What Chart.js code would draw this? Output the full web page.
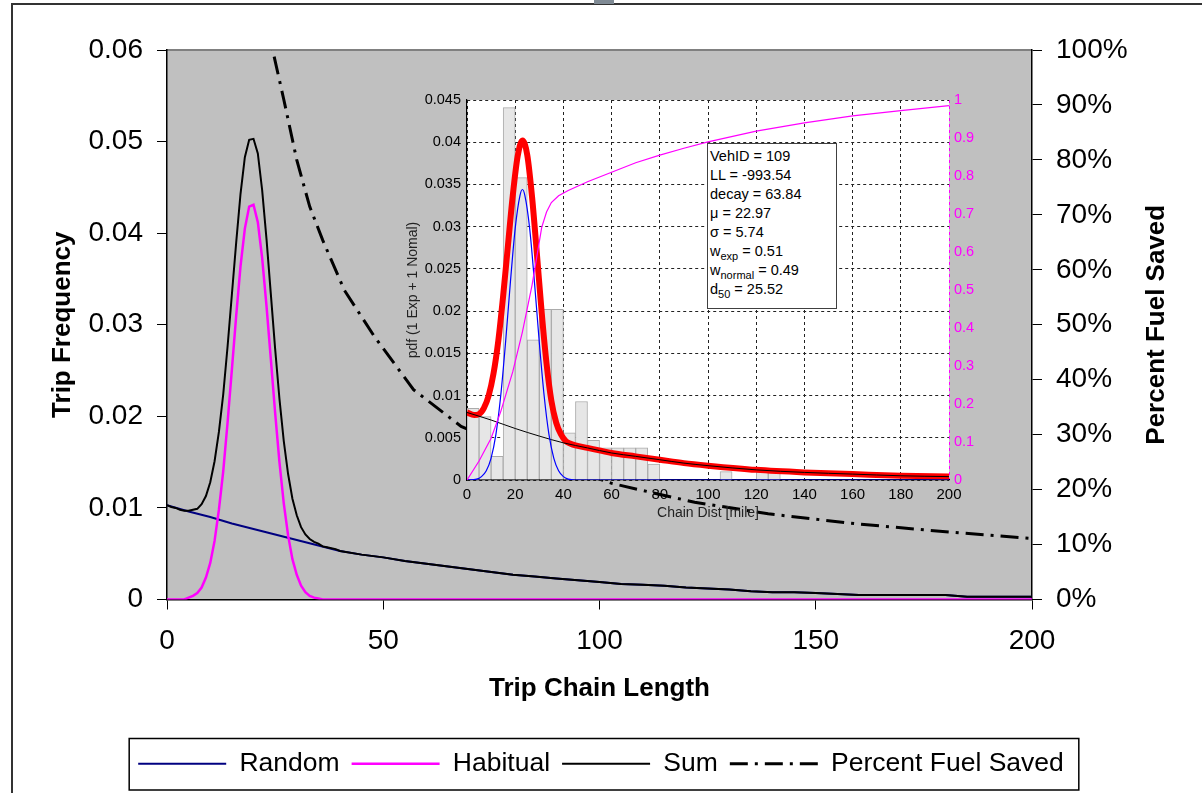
<!DOCTYPE html>
<html>
<head>
<meta charset="utf-8">
<script src="https://cdn.jsdelivr.net/npm/chart.js@4.4.1/dist/chart.umd.min.js"></script>
<style>
html, body { margin: 0; padding: 0; background: #fff; }
#wrap { position: relative; width: 1202px; height: 793px; overflow: hidden; }
#frame { position: absolute; left: 11px; top: 3px; width: 1300px; height: 900px; border-left: 2px solid #333; border-top: 2px solid #333; }
#tab { position: absolute; left: 594px; top: 0; width: 20px; height: 4px; background: #7f8a94; }
#mainChart { position: absolute; left: 0; top: 0; }
#insetChart { position: absolute; left: 395px; top: 85px; }
#stats { position: absolute; left: 707px; top: 143px; width: 130px; height: 166px; box-sizing: border-box;
  border: 1px solid #404040; background: #fff; padding: 3px 0 0 2px;
  font: 14.5px "Liberation Sans", Arial, sans-serif; color: #000; }
#stats div { height: 19px; line-height: 19px; white-space: nowrap; }
#stats sub { font-size: 11px; vertical-align: -4px; line-height: 0; }
</style>
</head>
<body>
<div id="wrap">
  <div id="frame"></div>
  <div id="tab"></div>
  <canvas id="mainChart" width="1202" height="793"></canvas>
  <canvas id="insetChart" width="600" height="440"></canvas>
  <div id="stats">
    <div>VehID = 109</div>
    <div>LL = -993.54</div>
    <div>decay = 63.84</div>
    <div>&mu; = 22.97</div>
    <div>&sigma; = 5.74</div>
    <div>w<sub>exp</sub> = 0.51</div>
    <div>w<sub>normal</sub> = 0.49</div>
    <div>d<sub>50</sub> = 25.52</div>
  </div>
</div>
<script>
// ---- main chart data (trip chain length in miles) ----
const randomX = [0, 5, 10, 15, 20, 25, 30, 35, 40, 45, 50, 55, 60, 65, 70, 75, 80, 85, 90, 95, 100,
  105, 110, 115, 120, 125, 130, 135, 140, 145, 150, 155, 160, 165, 170, 175, 180, 185, 190, 195, 200];
const randomY = [0.0103, 0.0096, 0.0090, 0.0083, 0.0077, 0.0071, 0.0065, 0.0059, 0.0053, 0.0049, 0.0046,
  0.0042, 0.0039, 0.0036, 0.0033, 0.0030, 0.0027, 0.0025, 0.0023, 0.0021, 0.0019,
  0.0017, 0.0016, 0.0015, 0.0013, 0.0012, 0.0011, 0.0009, 0.0008, 0.0008, 0.0007,
  0.0006, 0.0005, 0.0005, 0.0005, 0.0005, 0.0005, 0.0003, 0.0003, 0.0003, 0.0003];

const habitualX = [0, 1, 2, 3, 4, 5, 6, 7, 8, 9, 10, 11, 12, 13, 14, 15, 16, 17, 18, 19, 20,
  21, 22, 23, 24, 25, 26, 27, 28, 29, 30, 31, 32, 33, 34, 35, 36, 40, 200];
const habitualY = [0, 0, 0, 0, 0, 0.0002, 0.0004, 0.0007, 0.0013, 0.0024, 0.0040, 0.0064, 0.0098, 0.0140,
  0.0193, 0.0251, 0.0310, 0.0364, 0.0405, 0.0429, 0.0431, 0.0412, 0.0373, 0.0321, 0.0263, 0.0204,
  0.0150, 0.0105, 0.0070, 0.0044, 0.0027, 0.0015, 0.0008, 0.0004, 0.0002, 0.0001, 0, 0, 0];

const sumX = [0, 1, 2, 3, 4, 5, 6, 7, 8, 9, 10, 11, 12, 13, 14, 15, 16, 17, 18, 19, 20,
  21, 22, 23, 24, 25, 26, 27, 28, 29, 30, 31, 32, 33, 34, 35, 36, 37, 38, 39, 40,
  45, 50, 55, 60, 65, 70, 75, 80, 85, 90, 95, 100, 105, 110, 115, 120, 125, 130, 135, 140,
  145, 150, 155, 160, 165, 170, 175, 180, 185, 190, 195, 200];
const sumY = [0.0103, 0.0101, 0.0100, 0.0098, 0.0097, 0.0097, 0.0098, 0.0099, 0.0104, 0.0113, 0.0128,
  0.0151, 0.0183, 0.0224, 0.0276, 0.0333, 0.0390, 0.0443, 0.0483, 0.0502, 0.0503,
  0.0487, 0.0447, 0.0394, 0.0334, 0.0274, 0.0219, 0.0173, 0.0137, 0.0110, 0.0092,
  0.0079, 0.0071, 0.0066, 0.0063, 0.0061, 0.0058, 0.0057, 0.0056, 0.0055, 0.0053,
  0.0049, 0.0046, 0.0042, 0.0039, 0.0036, 0.0033, 0.0030, 0.0027, 0.0025, 0.0023, 0.0021, 0.0019,
  0.0017, 0.0016, 0.0015, 0.0013, 0.0012, 0.0011, 0.0009, 0.0008, 0.0008, 0.0007,
  0.0006, 0.0005, 0.0005, 0.0005, 0.0005, 0.0005, 0.0003, 0.0003, 0.0003, 0.0003];

const fuelX = [23, 27, 30, 33, 36, 41, 48, 57, 68, 80, 90, 103, 113, 122, 139, 159, 176, 200];
const fuelY = [105, 91, 80, 71.5, 65.4, 56.3, 47.8, 38.2, 31.5, 27.5, 24.5, 21.1, 19.3, 17.7, 15.6, 13.8, 12.6, 11.1];

// ---- inset data (chain distance in miles) ----
const binCenters = [2.5, 7.5, 12.5, 17.5, 22.5, 27.5, 32.5, 37.5, 42.5, 47.5, 52.5, 57.5, 62.5,
  67.5, 72.5, 77.5, 82.5, 87.5, 92.5, 97.5, 102.5, 107.5, 112.5, 117.5, 122.5, 127.5];
const binHeights = [0.0085, 0.0075, 0.0028, 0.0441, 0.0358, 0.0166, 0.0202, 0.0202, 0.0056, 0.0093,
  0.0047, 0.0038, 0.0038, 0.0038, 0.0038, 0.0019, null, null, null, null, null, 0.0010,
  null, null, 0.0010, 0.0010];

const pdfX = [0, 3, 5, 7, 9, 11, 13, 15, 17, 19, 21, 23, 25, 27, 29, 31, 33, 35, 37, 39, 41, 43, 45,
  50, 60, 70, 80, 90, 100, 120, 140, 160, 180, 200];
const pdfY = [0.0080, 0.0077, 0.0078, 0.0085, 0.0100, 0.0126, 0.0165, 0.0218, 0.0278, 0.0337, 0.0383,
  0.0402, 0.0385, 0.0335, 0.0268, 0.0198, 0.0138, 0.0094, 0.0068, 0.0054, 0.0046, 0.0043, 0.0041,
  0.0038, 0.0032, 0.0028, 0.0024, 0.0020, 0.0017, 0.0012, 0.0009, 0.0007, 0.0005, 0.0004];

const expX = [0, 10, 20, 30, 40, 50, 60, 70, 80, 90, 100, 120, 140, 160, 180, 200];
const expY = [0.0080, 0.0071, 0.0061, 0.0052, 0.0044, 0.0038, 0.0032, 0.0028, 0.0024, 0.0020,
  0.0017, 0.0012, 0.0009, 0.0007, 0.0005, 0.0004];

const normX = [0, 4, 6, 8, 10, 12, 14, 16, 18, 20, 22, 23, 24, 26, 28, 30, 32, 34, 36, 38, 40, 42, 45, 200];
const normY = [0, 0.0001, 0.0004, 0.0011, 0.0026, 0.0054, 0.0100, 0.0163, 0.0234, 0.0298, 0.0337,
  0.0344, 0.0337, 0.0298, 0.0234, 0.0163, 0.0100, 0.0054, 0.0026, 0.0011, 0.0004, 0.0001, 0, 0];

const cdfX = [0, 5, 10, 14, 19, 23, 27, 31, 33, 35, 38, 42, 50, 60, 70, 80, 90, 100, 120, 140, 160, 180, 200];
const cdfY = [0, 0.05, 0.11, 0.18, 0.285, 0.39, 0.513, 0.665, 0.705, 0.730, 0.748, 0.762, 0.785,
  0.81, 0.835, 0.855, 0.873, 0.89, 0.918, 0.94, 0.958, 0.972, 0.985];

const FONT = '"Liberation Sans", Arial, sans-serif';
Chart.defaults.font.family = FONT;
Chart.defaults.color = '#000';

function pts(xs, ys) {
    return xs.map((x, i) => ({ x: x, y: ys[i] }));
}

// gray plot area, top border, right title, legend frame
const mainDecor = {
    id: 'mainDecor',
    beforeDraw(chart) {
        const { ctx, chartArea: a } = chart;
        ctx.save();
        ctx.fillStyle = '#C0C0C0';
        ctx.fillRect(a.left, a.top, a.right - a.left, a.bottom - a.top);
        ctx.strokeStyle = '#808080';
        ctx.lineWidth = 2;
        ctx.beginPath();
        ctx.moveTo(a.left, a.top);
        ctx.lineTo(a.right, a.top);
        ctx.stroke();
        ctx.restore();
    },
    afterDraw(chart) {
        const { ctx, chartArea: a } = chart;
        ctx.save();
        ctx.translate(1157, (a.top + a.bottom) / 2);
        ctx.rotate(-Math.PI / 2);
        ctx.font = 'bold 26px ' + FONT;
        ctx.fillStyle = '#000';
        ctx.textAlign = 'center';
        ctx.textBaseline = 'middle';
        ctx.fillText('Percent Fuel Saved', 0, 0);
        ctx.restore();

        const boxes = chart.legend.legendHitBoxes;
        if (boxes && boxes.length) {
            const l = Math.min(...boxes.map(b => b.left)) - 9;
            const r = Math.max(...boxes.map(b => b.left + b.width)) + 15;
            const t = boxes[0].top - 12;
            const b = boxes[0].top + boxes[0].height + 13;
            ctx.save();
            ctx.strokeStyle = '#000';
            ctx.lineWidth = 1.5;
            ctx.strokeRect(l, t, r - l, b - t);
            ctx.restore();
        }
    }
};

new Chart(document.getElementById('mainChart'), {
    type: 'line',
    data: {
        datasets: [{
            label: 'Random',
            data: pts(randomX, randomY),
            borderColor: '#000080',
            borderWidth: 2,
            order: 3
        }, {
            label: 'Habitual',
            data: pts(habitualX, habitualY),
            borderColor: '#FF00FF',
            borderWidth: 2.5,
            order: 1
        }, {
            label: 'Sum',
            data: pts(sumX, sumY),
            borderColor: '#000000',
            borderWidth: 2,
            order: 2
        }, {
            label: 'Percent Fuel Saved',
            data: pts(fuelX, fuelY),
            borderColor: '#000000',
            borderWidth: 3,
            borderDash: [18, 7, 3, 7],
            yAxisID: 'y1',
            order: 0
        }]
    },
    options: {
        responsive: false,
        animation: false,
        events: [],
        elements: { point: { radius: 0 }, line: { tension: 0 } },
        layout: { padding: { top: 50, left: 0, right: 0, bottom: 6 } },
        plugins: {
            tooltip: { enabled: false },
            legend: {
                position: 'bottom',
                labels: {
                    usePointStyle: true,
                    pointStyleWidth: 88,
                    padding: 12,
                    font: { size: 26.5 },
                    color: '#000',
                    generateLabels: (chart) => chart.data.datasets.map((ds, i) => ({
                        text: ds.label,
                        strokeStyle: ds.borderColor,
                        fillStyle: ds.borderColor,
                        lineWidth: ds.borderWidth,
                        lineDash: ds.borderDash || [],
                        pointStyle: 'line',
                        hidden: false,
                        datasetIndex: i
                    }))
                }
            }
        },
        scales: {
            x: {
                type: 'linear',
                min: 0,
                max: 200,
                afterFit: (s) => { s.height = 139; },
                ticks: { stepSize: 50, padding: 15, font: { size: 28 }, maxRotation: 0 },
                grid: { drawOnChartArea: false, tickLength: 10, color: '#000' },
                border: { color: '#000', width: 1.5 },
                title: { display: true, text: 'Trip Chain Length', font: { size: 26, weight: 'bold' }, padding: { bottom: 34 } }
            },
            y: {
                min: 0,
                max: 0.06,
                afterFit: (s) => { s.width = 167; },
                ticks: {
                    stepSize: 0.01,
                    padding: 14,
                    font: { size: 28 },
                    callback: (v) => v === 0 ? '0' : v.toFixed(2)
                },
                grid: { drawOnChartArea: false, tickLength: 10, color: '#000' },
                border: { color: '#000', width: 1.5 },
                title: { display: true, text: 'Trip Frequency', font: { size: 26, weight: 'bold' }, padding: { top: 47 } }
            },
            y1: {
                position: 'right',
                min: 0,
                max: 100,
                afterFit: (s) => { s.width = 170; },
                ticks: {
                    stepSize: 10,
                    padding: 14,
                    font: { size: 28 },
                    callback: (v) => Math.round(v) + '%'
                },
                grid: { drawOnChartArea: false, tickLength: 10, color: '#000' },
                border: { color: '#000', width: 1.5 }
            }
        }
    },
    plugins: [mainDecor]
});

// white plot area for the inset
const insetDecor = {
    id: 'insetDecor',
    beforeDraw(chart) {
        const { ctx, chartArea: a } = chart;
        ctx.save();
        ctx.fillStyle = '#FFFFFF';
        ctx.fillRect(a.left, a.top, a.right - a.left, a.bottom - a.top);
        ctx.restore();
    }
};

new Chart(document.getElementById('insetChart'), {
    type: 'line',
    data: {
        datasets: [{
            type: 'bar',
            label: 'observed',
            data: pts(binCenters, binHeights),
            backgroundColor: '#E6E6E6',
            borderColor: '#ABABAB',
            borderWidth: 1,
            barPercentage: 1,
            categoryPercentage: 1,
            order: 5
        }, {
            label: 'pdf',
            data: pts(pdfX, pdfY),
            borderColor: '#FF0000',
            borderWidth: 6,
            cubicInterpolationMode: 'monotone',
            order: 4
        }, {
            label: 'exp',
            data: pts(expX, expY),
            borderColor: '#000000',
            borderWidth: 1,
            cubicInterpolationMode: 'monotone',
            order: 3
        }, {
            label: 'normal',
            data: pts(normX, normY),
            borderColor: '#0000FF',
            borderWidth: 1.2,
            cubicInterpolationMode: 'monotone',
            order: 2
        }, {
            label: 'cdf',
            data: pts(cdfX, cdfY),
            borderColor: '#FF00FF',
            borderWidth: 1.2,
            yAxisID: 'y1',
            order: 1
        }]
    },
    options: {
        responsive: false,
        animation: false,
        events: [],
        elements: { point: { radius: 0 } },
        layout: { padding: { top: 15, left: 0, right: 0, bottom: 0 } },
        plugins: { legend: { display: false }, tooltip: { enabled: false } },
        scales: {
            x: {
                type: 'linear',
                min: 0,
                max: 200,
                offset: false,
                afterFit: (s) => { s.height = 45; },
                ticks: { stepSize: 20, padding: 6, font: { size: 15 }, maxRotation: 0 },
                grid: {
                    offset: false,
                    drawTicks: false,
                    color: (c) => c.tick && c.tick.value === 200 ? '#FF00FF' : '#222'
                },
                border: { color: '#000', width: 1.2, dash: [3, 3] },
                title: { display: true, text: 'Chain Dist [mile]', font: { size: 14 }, color: '#222', padding: { bottom: 3 } }
            },
            y: {
                min: 0,
                max: 0.045,
                afterFit: (s) => { s.width = 72; },
                ticks: {
                    stepSize: 0.005,
                    padding: 6,
                    font: { size: 14.5 },
                    callback: (v) => String(+v.toFixed(3))
                },
                grid: { drawTicks: false, color: '#222' },
                border: { color: '#000', width: 1.2, dash: [3, 3] },
                title: { display: true, text: 'pdf (1 Exp + 1 Nomal)', font: { size: 14 }, color: '#222', padding: { top: 10 } }
            },
            y1: {
                position: 'right',
                min: 0,
                max: 1,
                afterFit: (s) => { s.width = 46; },
                ticks: {
                    stepSize: 0.1,
                    padding: 5,
                    color: '#FF00FF',
                    font: { size: 14.5 },
                    callback: (v) => String(+v.toFixed(1))
                },
                grid: { drawOnChartArea: false, drawTicks: false },
                border: { display: false }
            }
        }
    },
    plugins: [insetDecor]
});
</script>
</body>
</html>
